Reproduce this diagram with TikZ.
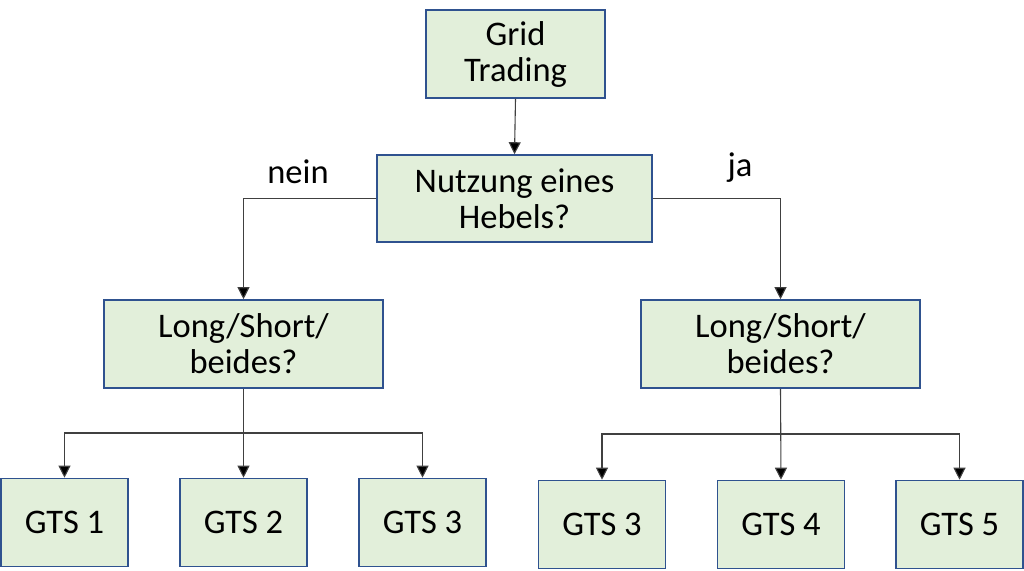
\documentclass[tikz,border=0pt]{standalone}
\usepackage{fontspec}
\setmainfont{Carlito}
\usetikzlibrary{arrows.meta}
\definecolor{boxfill}{HTML}{E2EFDA}
\definecolor{boxdraw}{HTML}{2F528F}
\definecolor{linecol}{HTML}{404040}
\tikzset{
  box/.style={draw=boxdraw, fill=boxfill, line width=1.6pt, minimum width=#1, inner sep=0pt, align=center,
    font=\fontsize{34.5}{36}\selectfont},
  lbl/.style={font=\fontsize{34.5}{36}\selectfont, inner sep=0pt},
  arr/.style={draw=linecol, line width=1.1pt, -{Triangle[width=12pt,length=12pt,fill=black]}},
}
\begin{document}
\begin{tikzpicture}[x=1pt,y=-1pt]
\useasboundingbox (0,0) rectangle (1024,570);
\node[box=179pt, minimum height=88pt] (grid) at (515.5,54) {Grid\\Trading};
\node[box=275pt, minimum height=87pt] (heb) at (514.5,198.5) {Nutzung eines\\Hebels?};
\node[box=279pt, minimum height=88pt] (L) at (243.5,344) {Long/Short/\\beides?};
\node[box=279pt, minimum height=88pt] (R) at (780.5,344) {Long/Short/\\beides?};
\node[box=127pt, minimum height=88pt] (g1) at (64.5,522.5) {GTS 1};
\node[box=127pt, minimum height=88pt] (g2) at (243.5,522.5) {GTS 2};
\node[box=127pt, minimum height=88pt] (g3) at (422.5,522.5) {GTS 3};
\node[box=127pt, minimum height=88pt] (g4) at (602,524.5) {GTS 3};
\node[box=127pt, minimum height=88pt] (g5) at (781,524.5) {GTS 4};
\node[box=127pt, minimum height=88pt] (g6) at (959.5,524.5) {GTS 5};
\node[lbl] (nein) at (298,172) {nein};
\node[lbl] (ja) at (740,168) {ja};
\coordinate (bl) at (243.5,433);
\coordinate (br) at (780.5,434);
\draw[arr] (grid.south) -- (heb.north);
\draw[arr] (heb.west) -| (L.north);
\draw[arr] (heb.east) -| (R.north);
\draw[arr] (L.south) -- (g2.north);
\draw[arr] (bl) -| (g1.north);
\draw[arr] (bl) -| (g3.north);
\draw[arr] (R.south) -- (g5.north);
\draw[arr] (br) -| (g4.north);
\draw[arr] (br) -| (g6.north);
\end{tikzpicture}
\end{document}
